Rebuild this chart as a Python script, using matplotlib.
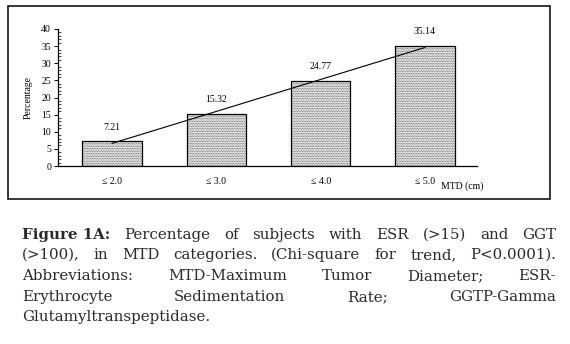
import numpy as np
import matplotlib
matplotlib.use("Agg")
import matplotlib.pyplot as plt
from matplotlib.patches import Rectangle

categories = ["\u2264 2.0", "\u2264 3.0", "\u2264 4.0", "\u2264 5.0"]
percentages = [7.21, 15.32, 24.77, 35.14]

caption_lines = [
    [("Figure 1A:", "bold"), ("Percentage", "normal"), ("of", "normal"), ("subjects", "normal"),
     ("with", "normal"), ("ESR", "normal"), ("(>15)", "normal"), ("and", "normal"), ("GGT", "normal")],
    "(>100), in MTD categories. (Chi-square for trend, P<0.0001).",
    "Abbreviations: MTD-Maximum Tumor Diameter; ESR-",
    "Erythrocyte Sedimentation Rate; GGTP-Gamma",
    "Glutamyltranspeptidase.",
]

plt.rcParams["font.family"] = ["Liberation Serif", "DejaVu Serif"]
plt.rcParams["hatch.linewidth"] = 0.6

W, H = 570, 344
fig = plt.figure(figsize=(W / 100, H / 100), dpi=100)

# outer frame around the chart
fig.add_artist(Rectangle((8 / W, 1 - 199 / H), 542 / W, 193 / H, transform=fig.transFigure,
                         fill=False, edgecolor="black", linewidth=1.1))

ax = fig.add_axes([58 / W, 1 - 166 / H, 419 / W, 137 / H])
x = np.arange(len(categories))
# dotted fill, then black outline on top
ax.bar(x, percentages, width=0.57, color="white", edgecolor="#555555", linewidth=0,
       hatch="..........")
ax.bar(x, percentages, width=0.57, fill=False, edgecolor="black", linewidth=0.9)
for xi, v in zip(x, percentages):
    ax.annotate(f"{v:.2f}", (xi, v), xytext=(0, 7), textcoords="offset points",
                ha="center", va="bottom", fontsize=7)

# linear trend
slope, icpt = np.polyfit(x, percentages, 1)
ax.plot([x[0], x[-1]], [icpt + slope * x[0], icpt + slope * x[-1]], color="black", linewidth=0.8)

ax.set_xlim(-0.52, 3.5)
ax.set_ylim(0, 40)
ax.set_yticks(np.arange(0, 41, 5))
ax.set_yticks(np.arange(0, 41, 1), minor=True)
ax.set_xticks(x)
ax.set_xticklabels(categories, fontsize=7)
ax.tick_params(axis="x", length=0, pad=8)
ax.tick_params(axis="y", which="major", length=3, width=0.7, labelsize=7, pad=2)
ax.tick_params(axis="y", which="minor", length=2, width=0.5, direction="in")
for s in ["top", "right"]:
    ax.spines[s].set_visible(False)
for s in ["left", "bottom"]:
    ax.spines[s].set_linewidth(0.9)
ax.set_ylabel("Percentage", fontsize=7, labelpad=6)
fig.text(462 / W, 1 - 186 / H, "MTD (cm)", fontsize=7, ha="center", va="center")

# justified caption
fig.canvas.draw()
renderer = fig.canvas.get_renderer()
x0, x1 = 22, 556
ys = [235, 255, 276, 297, 317]
fs = 10.8
for i, (line, yp) in enumerate(zip(caption_lines, ys)):
    if isinstance(line, str):
        words = [(w, "normal") for w in line.split(" ")]
    else:
        words = line
    texts = [fig.text(0, 1 - yp / H, w, fontsize=fs, fontweight=wt, va="center", ha="left",
                      color="#2a2a2a", family="DejaVu Serif") for w, wt in words]
    widths = [t.get_window_extent(renderer).width for t in texts]
    if i == len(caption_lines) - 1:
        gap = fs * 0.3
    else:
        gap = (x1 - x0 - sum(widths)) / (len(words) - 1)
    xp = x0
    for t, w in zip(texts, widths):
        t.set_x(xp / W)
        xp += w + gap

fig.savefig("out.png", dpi=100)
